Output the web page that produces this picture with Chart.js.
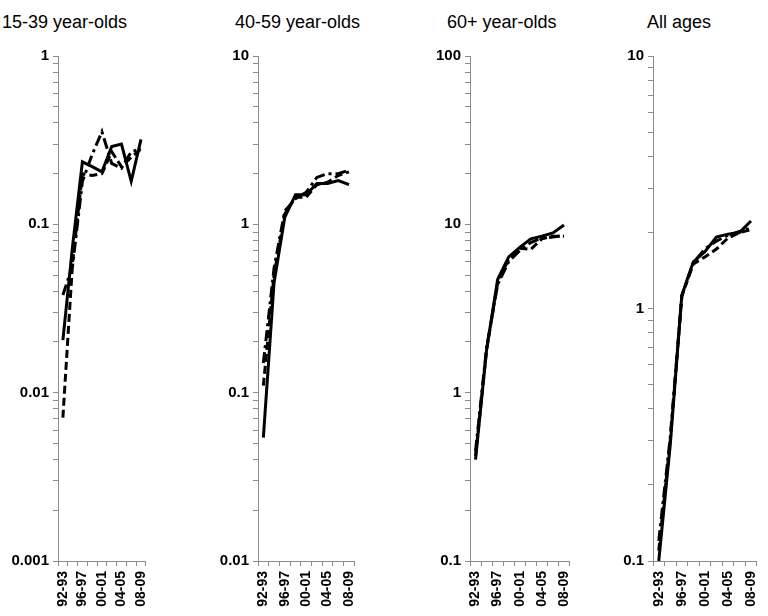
<!DOCTYPE html>
<html>
<head>
<meta charset="utf-8">
<script src="https://cdn.jsdelivr.net/npm/chart.js@4.4.1/dist/chart.umd.min.js"></script>
<style>
  body { margin: 0; width: 768px; height: 616px; overflow: hidden; background: #fff; position: relative;
         font-family: "Liberation Sans", Arial, sans-serif; }
  canvas { position: absolute; top: 0; }
  .ttl { position: absolute; top: 12px; font-size: 18px; line-height: 20px; color: #000; white-space: nowrap; }
</style>
</head>
<body>
<div class="ttl" id="t1" style="left:2px"></div>
<div class="ttl" id="t2" style="left:235px"></div>
<div class="ttl" id="t3" style="left:447px"></div>
<div class="ttl" id="t4" style="left:647px"></div>
<canvas id="c1"></canvas>
<canvas id="c2"></canvas>
<canvas id="c3"></canvas>
<canvas id="c4"></canvas>
<script>
const years = ["92-93", "94-95", "96-97", "98-99", "00-01", "02-03", "04-05", "06-07", "08-09"];
const titles = ["15-39 year-olds", "40-59 year-olds", "60+ year-olds", "All ages"];

// 15-39 year-olds
const youngSolid   = [0.0205, 0.075, 0.235, 0.22, 0.205, 0.29, 0.30, 0.18, 0.32];
const youngDash    = [0.0071, 0.06, 0.20, 0.195, 0.20, 0.27, 0.22, 0.25, 0.28];
const youngDashDot = [0.038, 0.057, 0.18, 0.26, 0.355, 0.23, 0.215, 0.27, 0.28];
const youngTicks   = ["0.001", "0.01", "0.1", "1"];

// 40-59 year-olds
const midSolid   = [0.054, 0.45, 1.1, 1.5, 1.5, 1.75, 1.75, 1.82, 1.72];
const midDash    = [0.11, 0.5, 1.15, 1.45, 1.45, 1.72, 1.78, 1.95, 2.05];
const midDashDot = [0.15, 0.55, 1.2, 1.42, 1.55, 1.9, 2.0, 2.0, 2.1];
const midTicks   = ["0.01", "0.1", "1", "10"];

// 60+ year-olds
const oldSolid   = [0.40, 1.8, 4.7, 6.4, 7.3, 8.2, 8.5, 8.9, 9.9];
const oldDash    = [0.42, 1.8, 4.5, 6.2, 7.2, 7.1, 8.2, 8.5, 8.5];
const oldDashDot = [0.45, 1.85, 4.4, 6.0, 7.0, 7.8, 8.3, 8.4, 8.6];
const oldTicks   = ["0.1", "1", "10", "100"];

// all ages
const allSolid   = [0.10, 0.29, 1.13, 1.53, 1.68, 1.92, 1.97, 2.0, 2.22];
const allDash    = [0.11, 0.30, 1.12, 1.5, 1.6, 1.72, 1.9, 2.0, 2.05];
const allDashDot = [0.12, 0.31, 1.12, 1.52, 1.72, 1.85, 1.95, 2.02, 2.08];
const allTicks   = ["0.1", "1", "10"];

const axisGrey = "#8c8c8c";

function makeChart(id, left, plotWidth, solid, dash, dashdot, tickLabels) {
  const canvas = document.getElementById(id);
  canvas.width = plotWidth + 66;
  canvas.height = 616;
  canvas.style.left = (left - 62) + "px";
  const decades = tickLabels.map(Number);

  const line = (data, dashes) => ({
    data: data,
    borderColor: "#000",
    backgroundColor: "#000",
    borderWidth: 3,
    borderDash: dashes,
    pointRadius: 0,
    tension: 0,
    fill: false,
  });

  return new Chart(canvas.getContext("2d"), {
    type: "line",
    data: {
      labels: years,
      datasets: [line(solid, []), line(dash, [8, 4]), line(dashdot, [11, 4, 3, 4])],
    },
    options: {
      responsive: false,
      animation: false,
      layout: { padding: { top: 56, right: 4, bottom: 0, left: 0 } },
      plugins: { legend: { display: false }, tooltip: { enabled: false } },
      scales: {
        x: {
          type: "category",
          offset: true,
          grid: { offset: true, drawOnChartArea: false, drawTicks: true, tickLength: 5, color: axisGrey },
          border: { color: axisGrey, width: 1 },
          ticks: {
            autoSkip: false,
            maxRotation: 90,
            minRotation: 90,
            padding: 5,
            color: "#000",
            font: { family: "'Liberation Sans', Arial, sans-serif", size: 14, weight: "bold" },
            callback: function (v, i) {
              return i % 2 === 0 ? this.getLabelForValue(v) : "";
            },
          },
          afterFit: (s) => { s.height = 55; },
        },
        y: {
          type: "logarithmic",
          min: decades[0],
          max: decades[decades.length - 1],
          grid: { drawOnChartArea: false, drawTicks: true, tickLength: 5, color: axisGrey },
          border: { color: axisGrey, width: 1 },
          afterBuildTicks: (scale) => {
            const t = [];
            decades.forEach((d, i) => {
              if (i < decades.length - 1) {
                for (let k = 1; k <= 9; k++) t.push({ value: Number((k * d).toPrecision(6)) });
              } else {
                t.push({ value: d });
              }
            });
            scale.ticks = t;
          },
          ticks: {
            autoSkip: false,
            padding: 4,
            color: "#000",
            font: { family: "'Liberation Sans', Arial, sans-serif", size: 15, weight: "bold" },
            callback: (value) => {
              const i = decades.findIndex((d) => Math.abs(value / d - 1) < 1e-6);
              return i >= 0 ? tickLabels[i] : "";
            },
          },
          afterFit: (s) => { s.width = 62; },
        },
      },
    },
  });
}

window.onload = function () {
  titles.forEach((t, i) => { document.getElementById("t" + (i + 1)).textContent = t; });
  makeChart("c1", 58, 101, youngSolid, youngDash, youngDashDot, youngTicks);
  makeChart("c2", 258, 109, midSolid, midDash, midDashDot, midTicks);
  makeChart("c3", 470, 112, oldSolid, oldDash, oldDashDot, oldTicks);
  makeChart("c4", 653, 116, allSolid, allDash, allDashDot, allTicks);
};
</script>
</body>
</html>
